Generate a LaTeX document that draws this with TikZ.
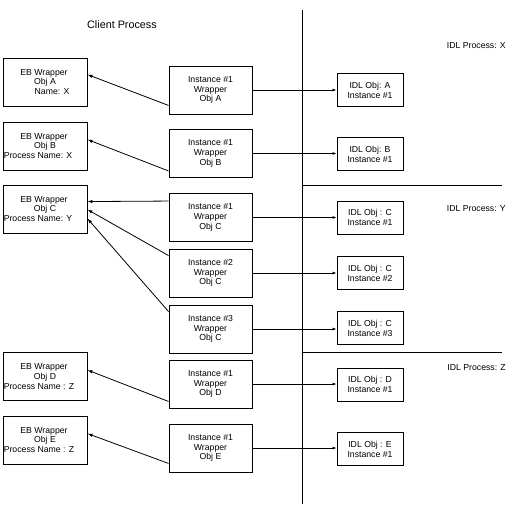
\documentclass[tikz,border=0pt]{standalone}
\usepackage{fontspec}
\setmainfont{Liberation Sans}
\usetikzlibrary{arrows.meta}
\begin{document}
\begin{tikzpicture}[x=1pt,y=-1pt,
  every node/.style={font=\fontsize{8.7}{9.8}\selectfont, inner sep=0pt},
  ebbox/.style={draw, line width=0.9pt, minimum width=84pt, minimum height=48pt, align=center},
  instbox/.style={draw, line width=0.9pt, minimum width=83pt, minimum height=48pt, align=center},
  idlbox/.style={draw, line width=0.9pt, minimum width=66pt, minimum height=33pt, align=center},
  backarrow/.style={line width=0.8pt, -{Latex[length=5pt,width=3.5pt]}},
  fwdarrow/.style={line width=0.8pt, -{Latex[length=4pt,width=3pt]}},
  sepline/.style={line width=0.9pt},
  title/.style={font=\fontsize{10.8}{12}\selectfont},
  proclabel/.style={anchor=east}
]
\useasboundingbox (0,0) rectangle (520,504);

% titles
\node[title] (client) at (122,25) {Client Process};
\node[proclabel] (px) at (506,46) {IDL Process: X};
\node[proclabel] (py) at (506,209) {IDL Process: Y};
\node[proclabel] (pz) at (506,368) {IDL Process: Z};

% separator lines
\draw[sepline] (302,10) -- (302,504);
\draw[sepline] (302,185) -- (502,185);
\draw[sepline] (302,352) -- (502,352);

% EB wrapper boxes
\node[ebbox] (ebA) at (45,82) {EB Wrapper\hspace*{2pt}\\Obj A\hspace*{8pt}\\\hspace*{14pt}Name: X};
\node[ebbox] (ebB) at (45,146) {EB Wrapper\hspace*{2pt}\\Obj B\hspace*{8pt}\\Process Name: X\hspace*{14pt}};
\node[ebbox] (ebC) at (45,209) {EB Wrapper\hspace*{2pt}\\Obj C\hspace*{8pt}\\Process Name: Y\hspace*{14pt}};
\node[ebbox] (ebD) at (45,376.5) {EB Wrapper\hspace*{2pt}\\Obj D\hspace*{8pt}\\Process Name : Z\hspace*{12pt}};
\node[ebbox] (ebE) at (45,440) {EB Wrapper\hspace*{2pt}\\Obj E\hspace*{8pt}\\Process Name : Z\hspace*{12pt}};

% instance boxes
\node[instbox] (inA) at (210.5,90) {Instance \#1\\Wrapper\\Obj A};
\node[instbox] (inB) at (210.5,153.5) {Instance \#1\\Wrapper\\Obj B};
\node[instbox] (inC1) at (210.5,217.5) {Instance \#1\\Wrapper\\Obj C};
\node[instbox] (inC2) at (210.5,273) {Instance \#2\\Wrapper\\Obj C};
\node[instbox] (inC3) at (210.5,329) {Instance \#3\\Wrapper\\Obj C};
\node[instbox] (inD) at (210.5,384) {Instance \#1\\Wrapper\\Obj D};
\node[instbox] (inE) at (210.5,448) {Instance \#1\\Wrapper\\Obj E};

% IDL boxes
\node[idlbox] (idA) at (370,90) {IDL Obj: A\\Instance \#1};
\node[idlbox] (idB) at (370,154) {IDL Obj: B\\Instance \#1};
\node[idlbox] (idC1) at (370,217.5) {IDL Obj : C\\Instance \#1};
\node[idlbox] (idC2) at (370,273) {IDL Obj : C\\Instance \#2};
\node[idlbox] (idC3) at (370,328) {IDL Obj : C\\Instance \#3};
\node[idlbox] (idD) at (370,384.5) {IDL Obj : D\\Instance \#1};
\node[idlbox] (idE) at (370,449) {IDL Obj : E\\Instance \#1};

% arrows back to EB wrappers
\draw[backarrow] ([yshift=9pt]inA.south west) -- ([yshift=-17pt]ebA.north east);
\draw[backarrow] ([yshift=7pt]inB.south west) -- ([yshift=-18pt]ebB.north east);
\draw[backarrow] ([yshift=-8pt]inC1.north west) -- ([yshift=-17pt]ebC.north east);
\draw[backarrow] ([yshift=-7pt]inC2.north west) -- ([yshift=-25pt]ebC.north east);
\draw[backarrow] ([yshift=-7pt]inC3.north west) -- ([yshift=-34pt]ebC.north east);
\draw[backarrow] ([yshift=7pt]inD.south west) -- ([yshift=-18pt]ebD.north east);
\draw[backarrow] ([yshift=9pt]inE.south west) -- ([yshift=-18pt]ebE.north east);

% arrows to IDL objects
\draw[fwdarrow] (inA.east) -- (inA.east -| idA.west);
\draw[fwdarrow] (inB.east) -- (inB.east -| idB.west);
\draw[fwdarrow] (inC1.east) -- (inC1.east -| idC1.west);
\draw[fwdarrow] (inC2.east) -- (inC2.east -| idC2.west);
\draw[fwdarrow] (inC3.east) -- (inC3.east -| idC3.west);
\draw[fwdarrow] (inD.east) -- (inD.east -| idD.west);
\draw[fwdarrow] (inE.east) -- (inE.east -| idE.west);
\end{tikzpicture}
\end{document}
